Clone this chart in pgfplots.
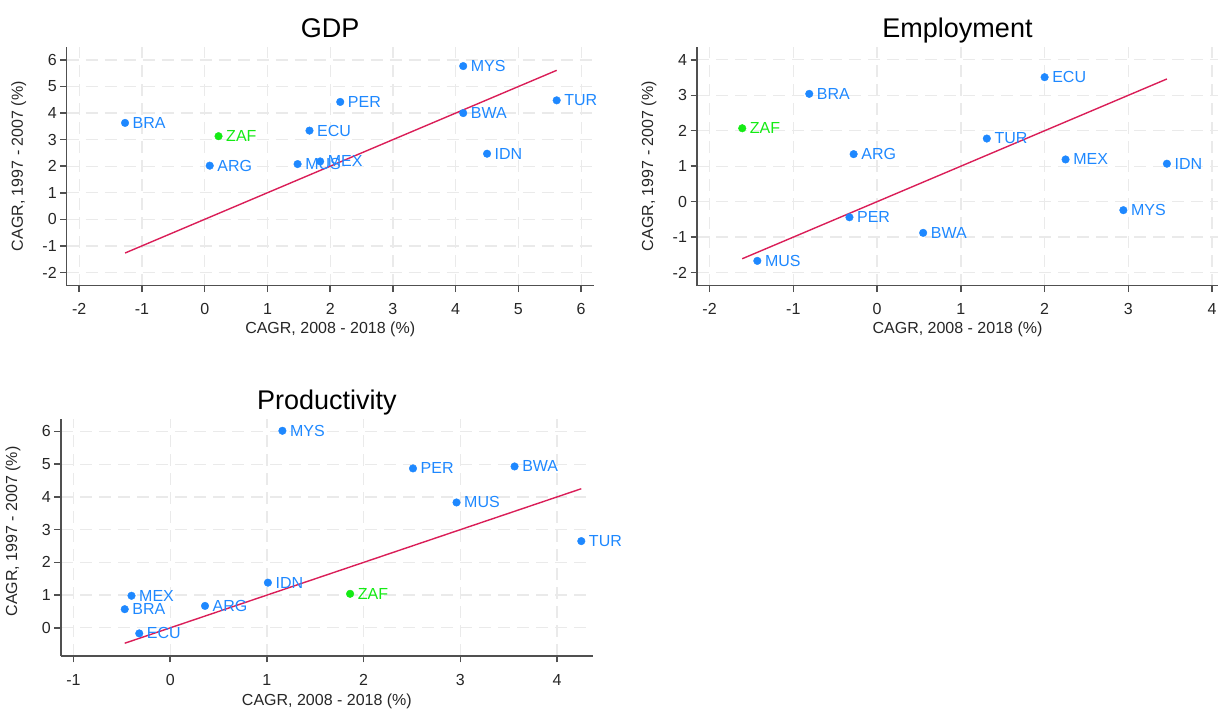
\documentclass[border=0pt]{standalone}
\usepackage{fontspec}
\setmainfont{Liberation Sans}
\usepackage{pgfplots}
\pgfplotsset{compat=1.18}

\definecolor{ptblue}{RGB}{30,136,255}
\definecolor{ptgreen}{RGB}{20,235,20}
\definecolor{fitline}{RGB}{218,30,88}
\definecolor{axgray}{RGB}{80,80,80}
\definecolor{gridgray}{RGB}{234,234,234}

\pgfplotsset{
  cagr/.style={
    scale only axis,
    axis x line*=bottom, axis y line*=left,
    axis line style={-, axgray, line width=1.5pt},
    every tick/.style={axgray, line width=1.5pt},
    tick align=outside, major tick length=6.5pt,
    xmajorgrids, ymajorgrids,
    major grid style={gridgray, line width=1.3pt, dash pattern=on 12pt off 7pt},
    tick label style={font=\fontsize{16}{18}\selectfont, text=black!85},
    xticklabel style={yshift=-8pt},
    /pgf/number format/assume math mode=true,
    xlabel={CAGR, 2008 - 2018 (\%)},
    ylabel={CAGR, 1997 - 2007 (\%)},
    every axis x label/.style={at={(axis description cs:0.5,0)}, anchor=center,
      yshift=-44pt, font=\fontsize{16}{18}\selectfont, text=black!85},
    every axis y label/.style={at={(axis description cs:0,0.5)}, anchor=center,
      xshift=-48pt, rotate=90, font=\fontsize{16}{18}\selectfont, text=black!85},
    every axis title/.style={at={(axis description cs:0.5,1)}, anchor=base,
      yshift=9.5pt, font=\fontsize{27}{30}\selectfont},
    clip=false,
    anchor=south west,
  },
  pts/.style={only marks, mark=*, mark size=3.8pt, color=#1,
    nodes near coords, point meta=explicit symbolic,
    nodes near coords align={anchor=west},
    every node near coord/.append style={font=\fontsize{16}{18}\selectfont, text=#1, inner sep=0pt, xshift=7.5pt}},
  fit/.style={fitline, line width=1.4pt, no marks},
}

\begin{document}
\begin{tikzpicture}
\useasboundingbox (0,0) rectangle (1218pt,709pt);

% GDP
\begin{axis}[cagr, at={(66.7pt,423.3pt)}, width=527pt, height=239pt,
  title={GDP},
  xmin=-2.2, xmax=6.2, ymin=-2.5, ymax=6.5,
  xtick={-2,...,6}, ytick={-2,...,6}]
\addplot[pts=ptblue] table[meta=lab] {
x y lab
4.12 5.77 MYS
2.16 4.42 PER
5.61 4.48 TUR
4.12 4.00 BWA
-1.27 3.63 BRA
1.67 3.34 ECU
4.50 2.47 IDN
0.08 2.02 ARG
1.48 2.08 MUS
1.84 2.18 MEX
};
\addplot[pts=ptgreen] table[meta=lab] {
x y lab
0.22 3.13 ZAF
};
\addplot[fit] coordinates {(-1.27,-1.27) (5.61,5.61)};
\end{axis}

% Employment
\begin{axis}[cagr, at={(697pt,423.3pt)}, width=521pt, height=239pt,
  title={Employment},
  xmin=-2.15, xmax=4.07, ymin=-2.37, ymax=4.37,
  xtick={-2,...,4}, ytick={-2,...,4}]
\addplot[pts=ptblue] table[meta=lab] {
x y lab
2.00 3.51 ECU
-0.81 3.04 BRA
1.31 1.78 TUR
-0.28 1.34 ARG
2.25 1.19 MEX
3.46 1.07 IDN
2.94 -0.24 MYS
-0.33 -0.44 PER
0.55 -0.88 BWA
-1.43 -1.67 MUS
};
\addplot[pts=ptgreen] table[meta=lab] {
x y lab
-1.61 2.07 ZAF
};
\addplot[fit] coordinates {(-1.61,-1.61) (3.46,3.46)};
\end{axis}

% Productivity
\begin{axis}[cagr, at={(60.9pt,53pt)}, width=532pt, height=237pt,
  title={Productivity},
  xmin=-1.13, xmax=4.37, ymin=-0.86, ymax=6.38,
  xtick={-1,...,4}, ytick={0,...,6},
  every axis y label/.append style={xshift=6pt},
  every axis x label/.append style={yshift=-1.5pt}]
\addplot[pts=ptblue] table[meta=lab] {
x y lab
1.16 6.02 MYS
2.51 4.87 PER
3.56 4.93 BWA
2.96 3.83 MUS
4.25 2.65 TUR
1.01 1.38 IDN
-0.40 0.98 MEX
-0.47 0.57 BRA
0.36 0.67 ARG
-0.32 -0.17 ECU
};
\addplot[pts=ptgreen] table[meta=lab] {
x y lab
1.86 1.04 ZAF
};
\addplot[fit] coordinates {(-0.47,-0.47) (4.25,4.25)};
\end{axis}
\end{tikzpicture}
\end{document}
